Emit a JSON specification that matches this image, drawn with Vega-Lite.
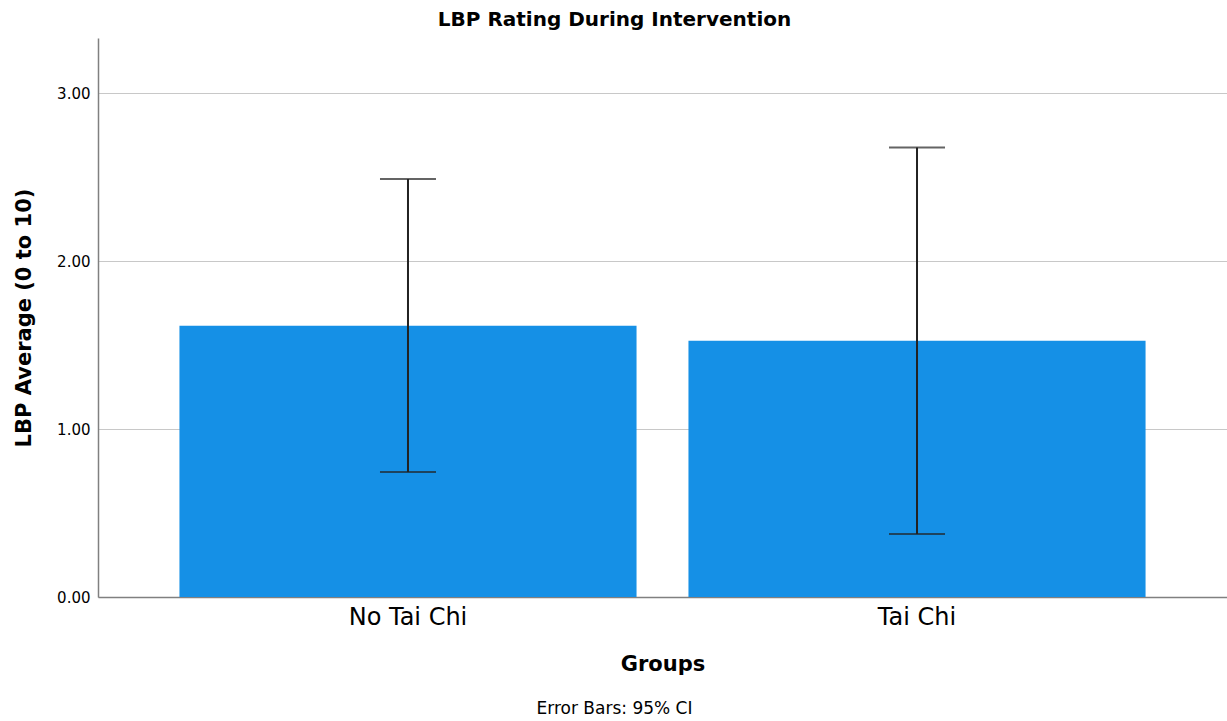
{
  "$schema": "https://vega.github.io/schema/vega-lite/v6.json",
  "width": 1129,
  "height": 559,
  "autosize": {"type": "none"},
  "padding": {"left": 98, "top": 38, "right": 0, "bottom": 124},
  "background": "white",
  "config": {
    "font": "DejaVu Sans",
    "view": {"stroke": null},
    "axis": {"labelFont": "DejaVu Sans", "titleFont": "DejaVu Sans"}
  },
  "title": {
    "text": "LBP Rating During Intervention",
    "fontSize": 20,
    "fontWeight": "bold",
    "font": "DejaVu Sans",
    "color": "#000000",
    "anchor": "middle",
    "dx": -48,
    "offset": 8
  },
  "data": {
    "values": [
      {"Group": "No Tai Chi", "mean": 1.616, "lo": 0.745, "hi": 2.49},
      {"Group": "Tai Chi", "mean": 1.527, "lo": 0.376, "hi": 2.677}
    ]
  },
  "resolve": {"axis": {"x": "independent"}},
  "layer": [
    {
      "mark": {"type": "bar", "color": "#1590e6"},
      "encoding": {
        "x": {
          "field": "Group",
          "type": "nominal",
          "sort": null,
          "scale": {"paddingInner": 0.102, "paddingOuter": 0.16},
          "axis": {
            "orient": "bottom",
            "title": "Groups",
            "titleFontSize": 21,
            "titleFontWeight": "bold",
            "titleColor": "#000000",
            "titlePadding": 24,
            "labelAngle": 0,
            "labelFontSize": 24,
            "labelColor": "#000000",
            "labelPadding": 8,
            "ticks": false,
            "domainColor": "#808080",
            "domainWidth": 1.5
          }
        },
        "y": {
          "field": "mean",
          "type": "quantitative",
          "scale": {"domain": [0, 3.33], "nice": false},
          "axis": {
            "title": "LBP Average (0 to 10)",
            "titleFontSize": 21,
            "titleFontWeight": "bold",
            "titleColor": "#000000",
            "titlePadding": 22,
            "values": [0, 1, 2, 3],
            "format": ".2f",
            "labelFontSize": 15,
            "labelColor": "#000000",
            "labelPadding": 8,
            "ticks": false,
            "grid": true,
            "gridColor": "#c8c8c8",
            "gridWidth": 1,
            "domainColor": "#808080",
            "domainWidth": 1.5
          }
        }
      }
    },
    {
      "mark": {"type": "rule", "color": "#222222", "strokeWidth": 2},
      "encoding": {
        "x": {
          "field": "Group",
          "type": "nominal",
          "sort": null,
          "axis": {
            "orient": "bottom",
            "title": "Error Bars: 95% CI",
            "titleFontSize": 17,
            "titleFontWeight": "normal",
            "titleColor": "#000000",
            "titlePadding": 103,
            "titleX": 516,
            "labels": false,
            "ticks": false,
            "domain": false,
            "grid": false
          }
        },
        "y": {"field": "lo", "type": "quantitative"},
        "y2": {"field": "hi"}
      }
    },
    {
      "mark": {"type": "tick", "color": "#222222", "thickness": 2, "size": 56},
      "encoding": {
        "x": {"field": "Group", "type": "nominal", "sort": null, "axis": null},
        "y": {"field": "lo", "type": "quantitative"}
      }
    },
    {
      "mark": {"type": "tick", "color": "#222222", "thickness": 2, "size": 56},
      "encoding": {
        "x": {"field": "Group", "type": "nominal", "sort": null, "axis": null},
        "y": {"field": "hi", "type": "quantitative"}
      }
    }
  ]
}
